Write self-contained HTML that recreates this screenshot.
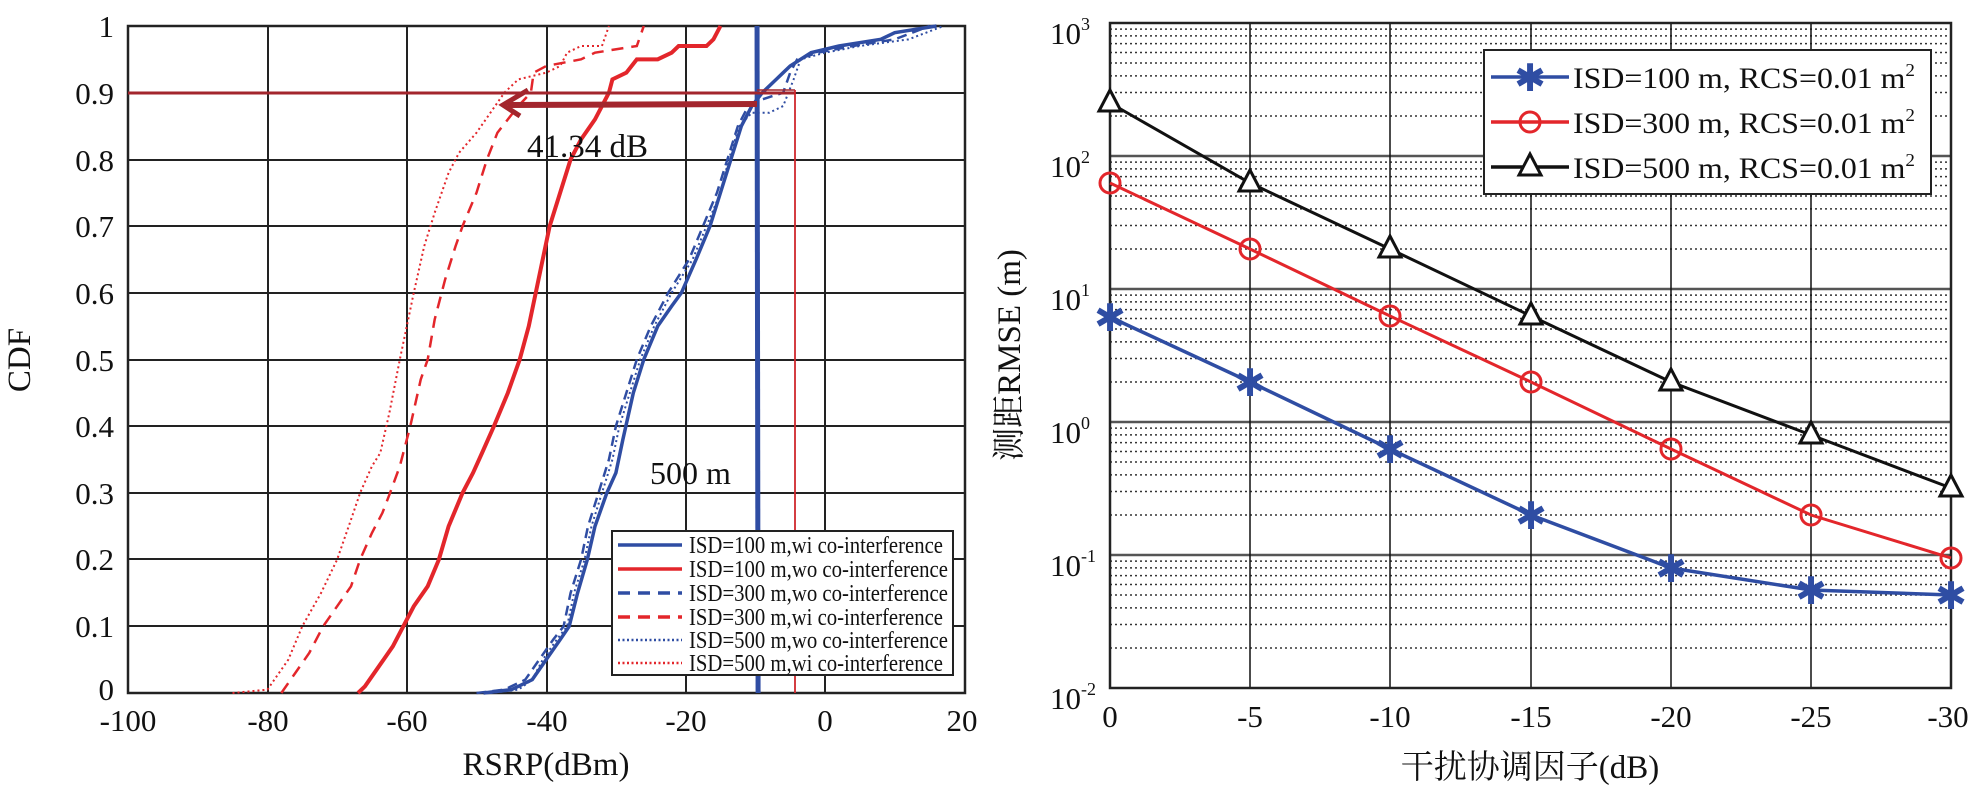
<!DOCTYPE html>
<html><head><meta charset="utf-8"><style>
body{margin:0;background:#fff}
svg{display:block}
text{font-family:"Liberation Serif","Noto Serif CJK SC","Noto Sans CJK SC",serif;fill:#111}
</style></head><body>
<svg width="1975" height="789" viewBox="0 0 1975 789" xmlns="http://www.w3.org/2000/svg">
<!-- LEFT PLOT -->
<g stroke="#222" stroke-width="2">
<line x1="268" y1="26" x2="268" y2="693"/><line x1="407" y1="26" x2="407" y2="693"/>
<line x1="547" y1="26" x2="547" y2="693"/><line x1="686" y1="26" x2="686" y2="693"/>
<line x1="825" y1="26" x2="825" y2="693"/>
<line x1="128" y1="626" x2="965" y2="626"/><line x1="128" y1="559" x2="965" y2="559"/>
<line x1="128" y1="493" x2="965" y2="493"/><line x1="128" y1="426" x2="965" y2="426"/>
<line x1="128" y1="360" x2="965" y2="360"/><line x1="128" y1="293" x2="965" y2="293"/>
<line x1="128" y1="226" x2="965" y2="226"/><line x1="128" y1="160" x2="965" y2="160"/>
<line x1="128" y1="93" x2="965" y2="93"/>
</g>
<rect x="128" y="26" width="837" height="667" fill="none" stroke="#222" stroke-width="2.5"/>
<g transform="translate(825,693) scale(6.97,-667)" fill="none">
<path vector-effect="non-scaling-stroke" stroke="#e3262b" stroke-width="4" d="M-67,0 L-66,0.01 -64,0.04 -62,0.07 -60.5,0.1 -59,0.13 -57,0.16 -55.4,0.2 -54,0.25 -52,0.3 -50.5,0.33 -49.2,0.36 -47.5,0.4 -45.5,0.45 -43.8,0.5 -42.5,0.55 -41.5,0.6 -40.5,0.65 -39.5,0.7 -38,0.75 -36.5,0.8 -35,0.83 -33,0.86 -32,0.88 -31,0.9 -30.5,0.92 -28.5,0.93 -27,0.95 -24,0.95 -22,0.96 -21,0.97 -17,0.97 -16,0.98 -15,1"/>
<path vector-effect="non-scaling-stroke" stroke="#e3262b" stroke-width="2.5" stroke-dasharray="12,8" d="M-78,0 L-76,0.03 -74,0.06 -72,0.1 -70,0.13 -68,0.16 -66.7,0.2 -65,0.24 -63.5,0.27 -62.4,0.3 -61,0.34 -59.5,0.4 -58,0.47 -57,0.5 -56,0.56 -54.5,0.62 -53,0.67 -52,0.7 -50,0.75 -48.5,0.8 -47,0.84 -45.5,0.86 -44,0.88 -42.2,0.9 -41.8,0.93 -40,0.94 -35,0.95 -33,0.96 -27,0.97 -26,1"/>
<path vector-effect="non-scaling-stroke" stroke="#e3262b" stroke-width="2" stroke-dasharray="2,3" d="M-85,0 L-80,0.005 -79,0.02 -77,0.05 -75,0.1 -72.3,0.15 -70,0.2 -68,0.26 -66.7,0.3 -65,0.34 -63.8,0.36 -62.5,0.42 -61,0.5 -60,0.55 -59,0.6 -57.5,0.67 -56,0.72 -54,0.78 -52.5,0.81 -50,0.84 -48,0.87 -46,0.9 -44,0.92 -40,0.93 -38,0.94 -37,0.96 -35,0.97 -32,0.97 -31,1"/>
<path vector-effect="non-scaling-stroke" stroke="#2f4da3" stroke-width="3.5" d="M-49,0 L-45,0.005 -42,0.02 -40,0.05 -38,0.08 -36.7,0.1 -35.5,0.15 -34.1,0.2 -33,0.25 -31.3,0.3 -30,0.33 -29,0.38 -27.5,0.45 -26,0.5 -24,0.55 -22,0.58 -20.6,0.6 -18.5,0.65 -16.5,0.7 -15,0.75 -13.5,0.8 -12,0.85 -10.5,0.88 -9,0.9 -7,0.92 -6,0.93 -5,0.94 -2,0.96 2,0.97 8,0.98 10,0.99 16,1"/>
<path vector-effect="non-scaling-stroke" stroke="#2f4da3" stroke-width="2.5" stroke-dasharray="10,6" d="M-50,0 L-46,0.005 -43,0.02 -41,0.05 -39,0.08 -37.5,0.1 -36.5,0.15 -35,0.2 -34,0.25 -32.5,0.3 -31,0.35 -30,0.4 -28.5,0.45 -27,0.5 -25,0.55 -22.5,0.6 -19.5,0.65 -17.5,0.7 -15.5,0.75 -14,0.8 -12.5,0.85 -11,0.88 -9,0.89 -6,0.9 -5,0.93 -4,0.95 -1,0.96 4,0.97 10,0.98 15,1"/>
<path vector-effect="non-scaling-stroke" stroke="#2f4da3" stroke-width="2" stroke-dasharray="2,3" d="M-48,0 L-44,0.005 -42,0.02 -40.5,0.05 -38.5,0.08 -37,0.1 -36,0.15 -34.5,0.2 -33.5,0.25 -32,0.3 -30.5,0.35 -29.5,0.4 -28,0.45 -26.5,0.5 -24.5,0.55 -22,0.6 -19,0.65 -17,0.7 -15,0.75 -13.8,0.8 -12.3,0.85 -10.5,0.87 -8,0.87 -6,0.88 -4.5,0.92 -3.5,0.95 0,0.96 5,0.97 12,0.98 17,1"/>
<path vector-effect="non-scaling-stroke" stroke="#2f4da3" stroke-width="5" d="M-9.6,0 L-9.75,1"/>
</g>
<!-- annotations -->
<line x1="128" y1="93" x2="795" y2="93" stroke="#a3262d" stroke-width="3"/>
<line x1="757" y1="90" x2="795" y2="90" stroke="#a3262d" stroke-width="1.5"/>
<line x1="795" y1="90" x2="795" y2="693" stroke="#d0282d" stroke-width="1.8"/>
<line x1="757" y1="104" x2="508" y2="105" stroke="#a3262d" stroke-width="6"/>
<polyline points="528,90 503,105 520,116" fill="none" stroke="#a3262d" stroke-width="5"/>
<text x="527" y="157" font-size="33">41.34 dB</text>
<text x="650" y="484" font-size="32">500 m</text>
<!-- legend left -->
<rect x="612" y="531" width="341" height="144" fill="#fff" stroke="#222" stroke-width="2"/>
<g stroke-width="3.5">
<line x1="618" y1="545" x2="682" y2="545" stroke="#2f4da3"/>
<line x1="618" y1="569" x2="682" y2="569" stroke="#e3262b"/>
<line x1="618" y1="593" x2="682" y2="593" stroke="#2f4da3" stroke-dasharray="12,8"/>
<line x1="618" y1="617" x2="682" y2="617" stroke="#e3262b" stroke-dasharray="12,8"/>
<line x1="618" y1="640" x2="682" y2="640" stroke="#2f4da3" stroke-dasharray="2,2.5" stroke-width="2.5"/>
<line x1="618" y1="663" x2="682" y2="663" stroke="#e3262b" stroke-dasharray="2,2.5" stroke-width="2.5"/>
</g>
<g font-size="24" lengthAdjust="spacingAndGlyphs">
<text x="689" y="553" textLength="254" lengthAdjust="spacingAndGlyphs">ISD=100 m,wi co-interference</text>
<text x="689" y="577" textLength="259" lengthAdjust="spacingAndGlyphs">ISD=100 m,wo co-interference</text>
<text x="689" y="601" textLength="259" lengthAdjust="spacingAndGlyphs">ISD=300 m,wo co-interference</text>
<text x="689" y="625" textLength="254" lengthAdjust="spacingAndGlyphs">ISD=300 m,wi co-interference</text>
<text x="689" y="648" textLength="259" lengthAdjust="spacingAndGlyphs">ISD=500 m,wo co-interference</text>
<text x="689" y="671" textLength="254" lengthAdjust="spacingAndGlyphs">ISD=500 m,wi co-interference</text>
</g>
<!-- left ticks -->
<g font-size="31" text-anchor="end">
<text x="114" y="37">1</text><text x="114" y="104">0.9</text><text x="114" y="171">0.8</text>
<text x="114" y="237">0.7</text><text x="114" y="304">0.6</text><text x="114" y="371">0.5</text>
<text x="114" y="437">0.4</text><text x="114" y="504">0.3</text><text x="114" y="570">0.2</text>
<text x="114" y="637">0.1</text><text x="114" y="700">0</text>
</g>
<g font-size="31" text-anchor="middle">
<text x="128" y="731">-100</text><text x="268" y="731">-80</text><text x="407" y="731">-60</text>
<text x="547" y="731">-40</text><text x="686" y="731">-20</text><text x="825" y="731">0</text><text x="962" y="731">20</text>
</g>
<text x="546" y="775" font-size="33" text-anchor="middle">RSRP(dBm)</text>
<text transform="translate(30,360) rotate(-90)" font-size="33" text-anchor="middle">CDF</text>

<!-- RIGHT PLOT -->
<g transform="translate(0,422) scale(1,-133)" stroke="#333" stroke-dasharray="2,3">
<path vector-effect="non-scaling-stroke" stroke-width="1.5" fill="none" d="M1110,-1.699H1951M1110,-1.523H1951M1110,-1.398H1951M1110,-1.301H1951M1110,-1.222H1951M1110,-1.155H1951M1110,-1.097H1951M1110,-1.046H1951 M1110,-0.699H1951M1110,-0.523H1951M1110,-0.398H1951M1110,-0.301H1951M1110,-0.222H1951M1110,-0.155H1951M1110,-0.097H1951M1110,-0.046H1951 M1110,0.301H1951M1110,0.477H1951M1110,0.602H1951M1110,0.699H1951M1110,0.778H1951M1110,0.845H1951M1110,0.903H1951M1110,0.954H1951 M1110,1.301H1951M1110,1.477H1951M1110,1.602H1951M1110,1.699H1951M1110,1.778H1951M1110,1.845H1951M1110,1.903H1951M1110,1.954H1951 M1110,2.301H1951M1110,2.477H1951M1110,2.602H1951M1110,2.699H1951M1110,2.778H1951M1110,2.845H1951M1110,2.903H1951M1110,2.954H1951"/>
</g>
<g stroke="#555" stroke-width="2.5">
<line x1="1110" y1="156" x2="1951" y2="156"/><line x1="1110" y1="289" x2="1951" y2="289"/>
<line x1="1110" y1="422" x2="1951" y2="422"/><line x1="1110" y1="555" x2="1951" y2="555"/>
</g>
<g stroke="#111" stroke-width="1.5">
<line x1="1250" y1="23" x2="1250" y2="688"/><line x1="1390" y1="23" x2="1390" y2="688"/>
<line x1="1531" y1="23" x2="1531" y2="688"/><line x1="1671" y1="23" x2="1671" y2="688"/>
<line x1="1811" y1="23" x2="1811" y2="688"/>
</g>
<rect x="1110" y="23" width="841" height="665" fill="none" stroke="#222" stroke-width="2.5"/>
<!-- series -->
<polyline fill="none" stroke="#111" stroke-width="3" points="1110,103 1250,183 1390,249 1531,316 1671,382 1811,435 1951,488"/>
<polyline fill="none" stroke="#e3262b" stroke-width="3" points="1110,183 1250,249 1390,316 1531,382 1671,449 1811,515 1951,558"/>
<polyline fill="none" stroke="#2f4da3" stroke-width="3.5" points="1110,317 1250,382 1390,449 1531,515 1671,568 1811,590 1951,595"/>
<g fill="#fff" stroke="#111" stroke-width="3">
<polygon points="1110,90 1099,111 1121,111"/><polygon points="1250,170 1239,191 1261,191"/>
<polygon points="1390,236 1379,257 1401,257"/><polygon points="1531,303 1520,324 1542,324"/>
<polygon points="1671,369 1660,390 1682,390"/><polygon points="1811,422 1800,443 1822,443"/>
<polygon points="1951,475 1940,496 1962,496"/>
</g>
<g fill="none" stroke="#e3262b" stroke-width="3">
<circle cx="1110" cy="183" r="10"/><circle cx="1250" cy="249" r="10"/><circle cx="1390" cy="316" r="10"/>
<circle cx="1531" cy="382" r="10"/><circle cx="1671" cy="449" r="10"/><circle cx="1811" cy="515" r="10"/>
<circle cx="1951" cy="558" r="10"/>
</g>
<g fill="#2f4da3" font-size="38" text-anchor="middle" font-family="Liberation Sans">
<text x="1110" y="331" style="fill:#2f4da3">✱</text><text x="1250" y="396" style="fill:#2f4da3">✱</text>
<text x="1390" y="463" style="fill:#2f4da3">✱</text><text x="1531" y="529" style="fill:#2f4da3">✱</text>
<text x="1671" y="582" style="fill:#2f4da3">✱</text><text x="1811" y="604" style="fill:#2f4da3">✱</text>
<text x="1951" y="609" style="fill:#2f4da3">✱</text>
</g>
<!-- legend right -->
<rect x="1484" y="50" width="447" height="144" fill="#fff" stroke="#222" stroke-width="2"/>
<line x1="1491" y1="77" x2="1569" y2="77" stroke="#2f4da3" stroke-width="3.5"/>
<text x="1530" y="91" font-size="38" text-anchor="middle" font-family="Liberation Sans" style="fill:#2f4da3">✱</text>
<line x1="1491" y1="122" x2="1569" y2="122" stroke="#e3262b" stroke-width="3.5"/>
<circle cx="1530" cy="122" r="10" fill="none" stroke="#e3262b" stroke-width="3"/>
<line x1="1491" y1="167" x2="1569" y2="167" stroke="#111" stroke-width="3.5"/>
<polygon points="1530,154 1519,175 1541,175" fill="#fff" stroke="#111" stroke-width="3"/>
<g font-size="30">
<text x="1573" y="88" textLength="342" lengthAdjust="spacingAndGlyphs">ISD=100 m, RCS=0.01 m<tspan dy="-12" font-size="18">2</tspan></text>
<text x="1573" y="133" textLength="342" lengthAdjust="spacingAndGlyphs">ISD=300 m, RCS=0.01 m<tspan dy="-12" font-size="18">2</tspan></text>
<text x="1573" y="178" textLength="342" lengthAdjust="spacingAndGlyphs">ISD=500 m, RCS=0.01 m<tspan dy="-12" font-size="18">2</tspan></text>
</g>
<!-- right ticks -->
<g font-size="31">
<text x="1050" y="44">10<tspan dy="-14" font-size="18">3</tspan></text>
<text x="1050" y="177">10<tspan dy="-14" font-size="18">2</tspan></text>
<text x="1050" y="310">10<tspan dy="-14" font-size="18">1</tspan></text>
<text x="1050" y="443">10<tspan dy="-14" font-size="18">0</tspan></text>
<text x="1050" y="576">10<tspan dy="-14" font-size="18">-1</tspan></text>
<text x="1050" y="709">10<tspan dy="-14" font-size="18">-2</tspan></text>
</g>
<g font-size="31" text-anchor="middle">
<text x="1110" y="727">0</text><text x="1250" y="727">-5</text><text x="1390" y="727">-10</text>
<text x="1531" y="727">-15</text><text x="1671" y="727">-20</text><text x="1811" y="727">-25</text><text x="1948" y="727">-30</text>
</g>
<text x="1530" y="778" font-size="33" text-anchor="middle">干扰协调因子(dB)</text>
<text transform="translate(1020,355) rotate(-90)" font-size="33" text-anchor="middle">测距RMSE (m)</text>
</svg>
</body></html>
